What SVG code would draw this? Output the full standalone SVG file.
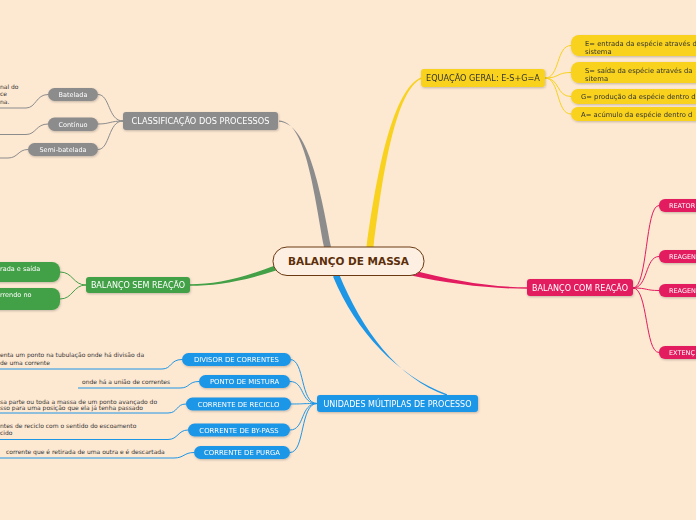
<svg xmlns="http://www.w3.org/2000/svg" width="696" height="520" viewBox="0 0 696 520">
<defs>
<filter id="sh" x="-10%" y="-30%" width="120%" height="170%"><feDropShadow dx="0.6" dy="1" stdDeviation="0.8" flood-color="#000" flood-opacity="0.22"/></filter>
</defs>
<style>
text{font-family:"DejaVu Sans",Verdana,sans-serif}
.tw{fill:#fff}
.td{fill:#333}
.an{font-size:6px;fill:#333}
.m{text-anchor:middle}
.gray{fill:#8c8c8c}
.yel{fill:#f8d21e}
.red{fill:#e31c5f}
.grn{fill:#43a046}
.blu{fill:#1e96e6}
.lg{stroke:#8c8c8c;stroke-width:1;fill:none}
.ly{stroke:#f8d21e;stroke-width:1;fill:none}
.lr{stroke:#e31c5f;stroke-width:1;fill:none}
.lgr{stroke:#43a046;stroke-width:1;fill:none}
.lb{stroke:#1e96e6;stroke-width:1;fill:none}
.nd{filter:url(#sh)}
</style>
<rect width="696" height="520" fill="#fde8d2"/>
<g id="connectors">
<path class="gray" d="M324,247 C313,186 305,121.5 279,120.4 L279,121.8 C307,123 320,186 331,247 Z"/>
<path class="yel" d="M366.5,247 C377,170 393,89.5 421,77.6 L421,79 C396,91 383,170 373.5,247 Z"/>
<path class="red" d="M410,269.5 C450,280 490,287.3 527,287.3 L527,288.7 C490,288.7 450,284 409,275 Z"/>
<path class="grn" d="M275,265.5 C240,279 215,284.3 190,284.3 L190,285.7 C215,285.7 240,282 276,270.5 Z"/>
<path class="blu" d="M333,276.5 C356,332 398,376 447,394.3 L447,395.7 C397,378 362,330 339,274 Z"/>
<path class="lg" d="M123,121 C108,121 110,94.5 98,94.5"/>
<path class="lg" d="M123,121 C110,121 110,124 98,124"/>
<path class="lg" d="M123,121 C108,121 110,149.5 98,149.5"/>
<path class="lg" d="M48,94.5 C36,94.5 36,108 26,108 L0,108"/>
<path class="lg" d="M48,124 C36,124 36,134.5 26,134.5 L0,134.5"/>
<path class="lg" d="M28,149.5 C18,149.5 18,158 8,158 L0,158"/>
<path class="ly" d="M545,78 C560,78 556,45.5 571,45.5"/>
<path class="ly" d="M545,78 C560,78 556,72.5 571,72.5"/>
<path class="ly" d="M545,78 C560,78 556,96.5 571,96.5"/>
<path class="ly" d="M545,78 C560,78 556,114 571,114"/>
<path class="lr" d="M633,288 C648,288 645,205.5 659,205.5"/>
<path class="lr" d="M633,288 C648,288 645,256.5 659,256.5"/>
<path class="lr" d="M633,288 C648,288 645,290.5 659,290.5"/>
<path class="lr" d="M633,288 C648,288 645,352.5 659,352.5"/>
<path class="lgr" d="M86,285 C73,285 73,272 60,272"/>
<path class="lgr" d="M86,285 C73,285 73,299 60,299"/>
<path class="lb" d="M317,403.5 C300,403.5 305,359.5 290,359.5"/>
<path class="lb" d="M317,403.5 C300,403.5 305,381.5 290,381.5"/>
<path class="lb" d="M317,403.5 C300,403.5 305,404 290,404"/>
<path class="lb" d="M317,403.5 C300,403.5 305,430 290,430"/>
<path class="lb" d="M317,403.5 C300,403.5 305,452.5 290,452.5"/>
<path class="lb" d="M182,359.5 C170,359.5 172,369 162,369 L0,369"/>
<path class="lb" d="M199,381.5 C188,381.5 190,388 180,388 L78,388"/>
<path class="lb" d="M186,404 C176,404 178,413 168,413 L0,413"/>
<path class="lb" d="M188,430 C178,430 178,439.5 168,439.5 L0,439.5"/>
<path class="lb" d="M194,452.5 C184,452.5 184,458 174,458 L0,458"/>
</g>
<g id="center">
<rect x="273" y="247" width="151" height="28.5" rx="14" fill="#fdf0e2" stroke="#6b3a12" stroke-width="1"/>
<text x="348.5" y="265" class="m" style="font-size:10.5px;font-weight:bold;fill:#5c2e0a">BALANÇO DE MASSA</text>
</g>
<g id="classificacao" class="nd">
<rect x="123" y="112" width="155" height="18" rx="3" class="gray"/>
<text x="200.5" y="124" class="m tw" style="font-size:8.2px">CLASSIFICAÇÃO DOS PROCESSOS</text>
</g>
<g id="batelada" class="nd">
<rect x="48" y="88" width="50" height="13" rx="6.5" class="gray"/>
<text x="73" y="96.8" class="m tw" style="font-size:6.5px">Batelada</text>
</g>
<g id="continuo" class="nd">
<rect x="48" y="117.5" width="50" height="13.5" rx="6.5" class="gray"/>
<text x="73" y="126.5" class="m tw" style="font-size:6.5px">Contínuo</text>
</g>
<g id="semibatelada" class="nd">
<rect x="28" y="143" width="70" height="13" rx="6.5" class="gray"/>
<text x="63" y="151.8" class="m tw" style="font-size:6.5px">Semi-batelada</text>
</g>
<g id="batelada-note">
<text x="0" y="88.5" class="an">nal do</text>
<text x="0" y="96" class="an">ce</text>
<text x="0" y="103.5" class="an">na.</text>
</g>
<g id="equacao" class="nd">
<rect x="421" y="69" width="124" height="18" rx="3" class="yel"/>
<text x="483" y="81.2" class="m td" style="font-size:8.15px">EQUAÇÃO GERAL: E-S+G=A</text>
</g>
<g id="e-node" class="nd">
<rect x="571" y="35" width="140" height="21" rx="8" class="yel"/>
<text x="585" y="45.5" class="td" style="font-size:6.8px">E= entrada da espécie através d</text>
<text x="585" y="54" class="td" style="font-size:6.8px">sistema</text>
</g>
<g id="s-node" class="nd">
<rect x="571" y="62" width="140" height="21" rx="8" class="yel"/>
<text x="585" y="72.8" class="td" style="font-size:6.8px">S= saída da espécie através da</text>
<text x="585" y="80.8" class="td" style="font-size:6.8px">sitema</text>
</g>
<g id="g-node" class="nd">
<rect x="571" y="89" width="140" height="15" rx="7" class="yel"/>
<text x="581" y="99.3" class="td" style="font-size:6.8px">G= produção da espécie dentro d</text>
</g>
<g id="a-node" class="nd">
<rect x="571" y="107" width="140" height="14" rx="7" class="yel"/>
<text x="581" y="116.8" class="td" style="font-size:6.8px">A= acúmulo da espécie dentro d</text>
</g>
<g id="com-reacao" class="nd">
<rect x="527" y="279" width="106" height="17" rx="3" class="red"/>
<text x="580" y="290.8" class="m tw" style="font-size:8px">BALANÇO COM REAÇÃO</text>
</g>
<g id="reator" class="nd">
<rect x="659" y="199" width="60" height="13" rx="6" class="red"/>
<text x="669" y="208" class="tw" style="font-size:6.5px">REATOR</text>
</g>
<g id="reagen1" class="nd">
<rect x="659" y="250" width="60" height="13" rx="6" class="red"/>
<text x="669" y="259" class="tw" style="font-size:6.5px">REAGEN</text>
</g>
<g id="reagen2" class="nd">
<rect x="659" y="284" width="60" height="13" rx="6" class="red"/>
<text x="669" y="293" class="tw" style="font-size:6.5px">REAGEN</text>
</g>
<g id="extenc" class="nd">
<rect x="659" y="346" width="60" height="13" rx="6" class="red"/>
<text x="669" y="355" class="tw" style="font-size:6.5px">EXTENÇ</text>
</g>
<g id="sem-reacao" class="nd">
<rect x="86" y="277" width="104" height="16" rx="3" class="grn"/>
<text x="138" y="288" class="m tw" style="font-size:8px">BALANÇO SEM REAÇÃO</text>
</g>
<g id="sem-a" class="nd">
<rect x="-20" y="262" width="80" height="20" rx="8" class="grn"/>
<text x="0" y="270.5" class="tw" style="font-size:6.5px">rada e saída</text>
</g>
<g id="sem-b" class="nd">
<rect x="-20" y="288" width="80" height="22" rx="8" class="grn"/>
<text x="0" y="296.8" class="tw" style="font-size:6.5px">rrendo no</text>
</g>
<g id="unidades" class="nd">
<rect x="317" y="395" width="161" height="17" rx="3" class="blu"/>
<text x="397.5" y="406.5" class="m tw" style="font-size:8px">UNIDADES MÚLTIPLAS DE PROCESSO</text>
</g>
<g id="divisor" class="nd">
<rect x="182" y="353" width="109" height="13" rx="6.5" class="blu"/>
<text x="236.5" y="362.2" class="m tw" style="font-size:6.9px">DIVISOR DE CORRENTES</text>
</g>
<g id="ponto" class="nd">
<rect x="199" y="375" width="91" height="13" rx="6.5" class="blu"/>
<text x="244.5" y="384.2" class="m tw" style="font-size:6.9px">PONTO DE MISTURA</text>
</g>
<g id="reciclo" class="nd">
<rect x="186" y="397.5" width="105" height="13" rx="6.5" class="blu"/>
<text x="238.5" y="406.7" class="m tw" style="font-size:6.9px">CORRENTE DE RECICLO</text>
</g>
<g id="bypass" class="nd">
<rect x="188" y="423.5" width="102" height="13" rx="6.5" class="blu"/>
<text x="239" y="432.7" class="m tw" style="font-size:6.9px">CORRENTE DE BY-PASS</text>
</g>
<g id="purga" class="nd">
<rect x="194" y="446" width="96" height="13" rx="6.5" class="blu"/>
<text x="242" y="455.2" class="m tw" style="font-size:6.9px">CORRENTE DE PURGA</text>
</g>
<g id="notes">
<text x="0" y="357" class="an">enta um ponto na tubulação onde há divisão da</text>
<text x="0" y="365.3" class="an">de uma corrente</text>
<text x="82" y="383.7" class="an">onde há a união de correntes</text>
<text x="0" y="403.5" class="an">sa parte ou toda a massa de um ponto avançado do</text>
<text x="0" y="409.8" class="an">sso para uma posição que ela já tenha passado</text>
<text x="0" y="428" class="an">ntes de reciclo com o sentido do escoamento</text>
<text x="0" y="434.7" class="an">cido</text>
<text x="6" y="454.3" class="an">corrente que é retirada de uma outra e é descartada</text>
</g>
</svg>
